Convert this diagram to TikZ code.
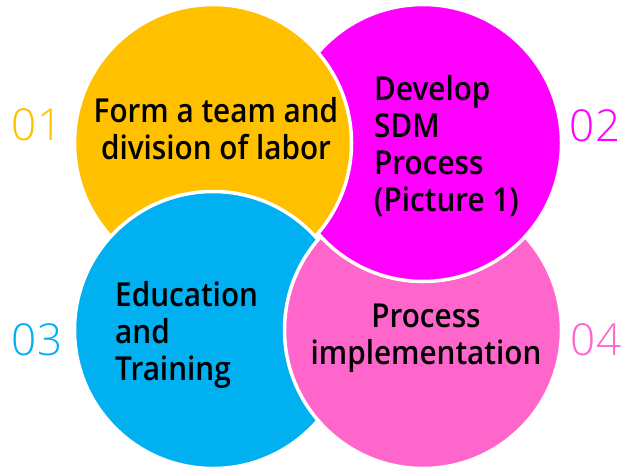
\documentclass[tikz,border=0pt]{standalone}
\usepackage{fontspec}
\setmainfont{Open Sans}
\IfFontExistsTF{Open Sans Light}{\newfontfamily\numfont{Open Sans Light}}{\newfontfamily\numfont{Open Sans}}
\IfFontExistsTF{Open Sans Semibold}{\newfontfamily\lblfont[FakeStretch=0.9]{Open Sans Semibold}}{\newfontfamily\lblfont[FakeStretch=0.9]{Open Sans}}
\definecolor{corange}{HTML}{FFC000}
\definecolor{cmagenta}{HTML}{FF00FF}
\definecolor{ccyan}{HTML}{00B0F0}
\definecolor{cpink}{HTML}{FF66CC}
\begin{document}
\begin{tikzpicture}[x=1pt,y=-1pt,
  circ/.style={circle, draw=white, line width=3.5pt, minimum size=277pt, inner sep=0pt},
  lbl/.style={font=\lblfont\fontsize{33}{37}\selectfont, text=black, inner sep=0pt},
  num/.style={font=\numfont\fontsize{44}{44}\selectfont, inner sep=0pt}]
\useasboundingbox (0,0) rectangle (636,474);
\node[circ, fill=corange] (c1) at (213,143) {};
\node[circ, fill=ccyan] (c3) at (213,330) {};
\node[circ, fill=cpink] (c4) at (423,330) {};
\node[circ, fill=cmagenta] (c2) at (423,143) {};
\begin{scope}
  \clip (c2.center) circle (147pt);
  \clip (131,26.5) -- (505,446.5) -- (805,179.5) -- (431,-240.5) -- cycle;
  \node[circ, fill=corange] (c1b) at (c1.center) {};
\end{scope}
\node[lbl, align=center] (t1) at (216,129) {Form a team and\\division of labor};
\node[lbl, align=left, anchor=west] (t2) at (374,146) {Develop\\SDM\\Process\\(Picture 1)};
\node[lbl, align=left, anchor=west] (t3) at (115,335) {Education\\and\\Training};
\node[lbl, align=center] (t4) at (426,338) {Process\\implementation};
\node[num, text=corange] (n1) at (37,125) {01};
\node[num, text=cmagenta] (n2) at (595,126) {02};
\node[num, text=ccyan] (n3) at (37,340) {03};
\node[num, text=cpink] (n4) at (596,340) {04};
\end{tikzpicture}
\end{document}
